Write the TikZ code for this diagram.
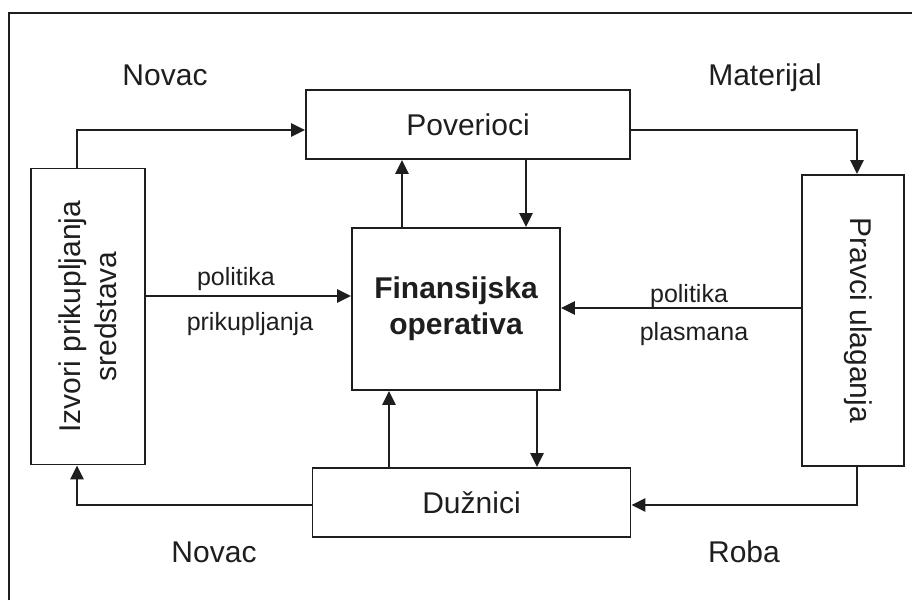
\documentclass[tikz,border=0pt]{standalone}
\usepackage{fontspec}
\setmainfont{Liberation Sans}
\usetikzlibrary{arrows.meta}
\definecolor{ink}{HTML}{1E1E1E}
\begin{document}
\begin{tikzpicture}[x=1pt,y=-1pt,
  box/.style={draw=ink, line width=1.8pt, inner sep=0pt, align=center,
    text=ink, font=\fontsize{30}{36}\selectfont},
  boxtext/.style={inner sep=0pt, align=center, text=ink,
    font=\fontsize{30}{36}\selectfont},
  conn/.style={draw=ink, line width=2.4pt, -{Triangle[length=14pt,width=13pt]}},
  lbl/.style={font=\fontsize{30}{36}\selectfont, text=ink, anchor=base, inner sep=0pt},
  small/.style={font=\fontsize{25}{30}\selectfont, text=ink, anchor=base, inner sep=0pt}]
\useasboundingbox (0,0) rectangle (912,600);

% open frame (top and left edges)
\draw[ink, line width=2.4pt] (9,600) -- (9,13) -- (912,13);

% boxes
\node[box, minimum width=324pt, minimum height=69pt] (pov) at (468,124.5) {Poverioci};
\node[box, minimum width=114pt, minimum height=296pt] (iz) at (88,316.5) {};
\node[boxtext, rotate=90] (izt) at (iz.center) {Izvori prikupljanja\\sredstava};
\node[box, minimum width=102pt, minimum height=291pt] (pr) at (853,320.5) {};
\node[boxtext, rotate=-90] (prt) at ([xshift=5pt]pr.center) {Pravci ulaganja};
\node[box, minimum width=208pt, minimum height=162pt, font=\fontsize{30}{36}\selectfont\bfseries] (fin) at (456,309) {Finansijska\\operativa};
\node[box, minimum width=318pt, minimum height=69pt] (duz) at (471.5,502.5) {Dužnici};

% routing points
\coordinate (c1) at (77,130);
\coordinate (c2) at (857,130);
\coordinate (c3) at (250,296);
\coordinate (c4) at (690,308);
\coordinate (c5) at (402,190);
\coordinate (c6) at (526,190);
\coordinate (c7) at (77,505);
\coordinate (c8) at (857,505);
\coordinate (c9) at (389,430);
\coordinate (c10) at (537,430);

% connectors
\draw[conn] (iz.north -| c1) -- (c1) -- (pov.west |- c1);
\draw[conn] (pov.east |- c2) -- (c2) -- (pr.north -| c2);
\draw[conn] (iz.east |- c3) -- (fin.west |- c3);
\draw[conn] (pr.west |- c4) -- (fin.east |- c4);
\draw[conn] (fin.north -| c5) -- (pov.south -| c5);
\draw[conn] (pov.south -| c6) -- (fin.north -| c6);
\draw[conn] (duz.north -| c9) -- (fin.south -| c9);
\draw[conn] (fin.south -| c10) -- (duz.north -| c10);
\draw[conn] (duz.west |- c7) -- (c7) -- (iz.south -| c7);
\draw[conn] (pr.south -| c8) -- (c8) -- (duz.east |- c8);

% flow labels
\node[lbl] (n1) at (165,85) {Novac};
\node[lbl] (m1) at (765,85) {Materijal};
\node[lbl] (n2) at (214,562) {Novac};
\node[lbl] (r1) at (744,562) {Roba};
\node[small] (p1) at (236,285) {politika};
\node[small] (p2) at (250,330) {prikupljanja};
\node[small] (p3) at (689,302) {politika};
\node[small] (p4) at (694,340) {plasmana};
\end{tikzpicture}
\end{document}
